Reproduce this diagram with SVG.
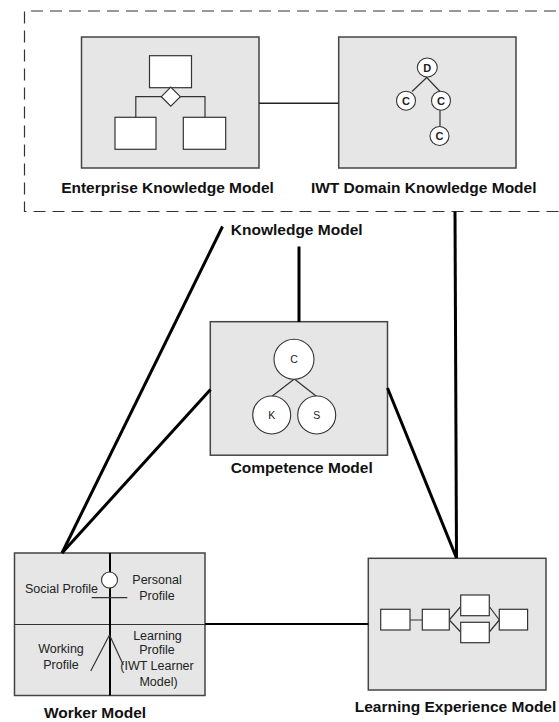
<svg xmlns="http://www.w3.org/2000/svg" width="559" height="722" viewBox="0 0 559 722">
<style>
.box{fill:#e6e6e6;stroke:#444;stroke-width:1.5}
.wbox{fill:#fff;stroke:#333;stroke-width:1.2}
.circ{fill:#fff;stroke:#333;stroke-width:1.1}
.thin{stroke:#333;stroke-width:1.2;fill:none}
.conn{stroke:#000;stroke-width:3;fill:none;stroke-linecap:butt}
.lbl{font-family:"Liberation Sans",Arial,sans-serif;font-weight:bold;font-size:15.5px;fill:#111;text-anchor:middle}
.sm{font-family:"Liberation Sans",Arial,sans-serif;font-size:12.5px;fill:#222;text-anchor:middle}
.cl{font-family:"Liberation Sans",Arial,sans-serif;font-size:10.5px;fill:#222;text-anchor:middle}
.clb{font-family:"Liberation Sans",Arial,sans-serif;font-size:11px;font-weight:bold;fill:#222;text-anchor:middle}
</style>
<rect width="559" height="722" fill="#fff"/>

<g id="knowledge-model">
<path d="M575 11 H24.5 V211.5 H575" fill="none" stroke="#333" stroke-width="1.2" stroke-dasharray="12 7"/>
<text class="lbl" x="296.7" y="235">Knowledge Model</text>
</g>

<g id="enterprise-knowledge-model">
<rect class="box" x="81.5" y="37" width="177.5" height="131"/>
<rect class="wbox" x="149.5" y="55.7" width="42" height="32"/>
<path class="thin" d="M135.8 117.3 V96.7 H205 V117.3"/>
<polygon class="wbox" points="170.8,87.2 180.3,96.7 170.8,106.2 161.3,96.7"/>
<rect class="wbox" x="115" y="117.3" width="41" height="32"/>
<rect class="wbox" x="183.3" y="117.3" width="42.4" height="32"/>
<text class="lbl" x="167.5" y="193.3">Enterprise Knowledge Model</text>
</g>

<g id="iwt-domain-knowledge-model">
<rect class="box" x="338.7" y="37" width="177.3" height="131"/>
<path class="thin" d="M426.7 77.5 L412 91.5 M426.7 77.5 L440 91.5 M440 110 V127"/>
<ellipse class="circ" cx="427.3" cy="67.5" rx="10" ry="9.5"/>
<ellipse class="circ" cx="406" cy="100.7" rx="9.5" ry="9.5"/>
<ellipse class="circ" cx="441" cy="100.7" rx="9.5" ry="9.5"/>
<ellipse class="circ" cx="439.5" cy="136" rx="9.5" ry="9.5"/>
<text class="clb" x="427.3" y="71.5">D</text>
<text class="clb" x="406" y="104.7">C</text>
<text class="clb" x="441" y="104.7">C</text>
<text class="clb" x="439.5" y="140">C</text>
<text class="lbl" x="423.7" y="193.3">IWT Domain Knowledge Model</text>
</g>

<g id="competence-model">
<rect class="box" x="210.3" y="321.7" width="177.2" height="133.5"/>
<path class="thin" d="M294.3 379 L271.7 396.5 M294.3 379 L316.7 396.5"/>
<circle class="circ" cx="294" cy="359.3" r="20"/>
<circle class="circ" cx="271.7" cy="415" r="19"/>
<circle class="circ" cx="316.7" cy="415" r="19"/>
<text class="cl" x="294" y="363.2">C</text>
<text class="cl" x="271.7" y="419">K</text>
<text class="cl" x="316.7" y="419">S</text>
<text class="lbl" x="301.7" y="472.5">Competence Model</text>
</g>

<g id="worker-model">
<rect class="box" x="14.5" y="553" width="190.5" height="142.5"/>
<line class="thin" x1="14.5" y1="624.5" x2="205" y2="624.5"/>
<line x1="110" y1="553" x2="110" y2="695.5" stroke="#000" stroke-width="2"/>
<circle class="circ" cx="109.5" cy="580" r="8"/>
<path class="thin" d="M91.7 597.7 H127.3 M109.5 635 L90.7 671 M109.5 635 L123.3 665"/>
<text class="sm" x="61.5" y="593.3">Social Profile</text>
<text class="sm" x="157" y="584">Personal</text>
<text class="sm" x="157" y="600">Profile</text>
<text class="sm" x="61" y="653.3">Working</text>
<text class="sm" x="61" y="669.3">Profile</text>
<text class="sm" x="157.5" y="640">Learning</text>
<text class="sm" x="157" y="653.5">Profile</text>
<text class="sm" x="157" y="669.5">(IWT Learner</text>
<text class="sm" x="158.5" y="685.5">Model)</text>
<text class="lbl" x="95" y="718">Worker Model</text>
</g>

<g id="learning-experience-model">
<rect class="box" x="368.3" y="558.3" width="177.7" height="131.7"/>
<path class="thin" d="M410 620 H422.3 M449.3 620 L460.7 606.5 M449.3 620 L460.7 632 M489.3 606.5 L499.3 620 M489.3 632 L499.3 620"/>
<rect class="wbox" x="380.7" y="609.3" width="29.3" height="20.7"/>
<rect class="wbox" x="422.3" y="609.3" width="27" height="20.7"/>
<rect class="wbox" x="460.7" y="595" width="28.6" height="20.7"/>
<rect class="wbox" x="460.7" y="622.3" width="28.6" height="20.4"/>
<rect class="wbox" x="499.3" y="609.3" width="28.3" height="20.7"/>
<text class="lbl" x="455.5" y="711.5">Learning Experience Model</text>
</g>

<g id="connectors">
<line x1="259" y1="103.3" x2="338.7" y2="103.3" stroke="#222" stroke-width="1.5"/>
<line class="conn" x1="222.5" y1="226.5" x2="62" y2="553"/>
<line class="conn" x1="210.5" y1="389.5" x2="62" y2="553"/>
<line class="conn" x1="299" y1="246.5" x2="299" y2="322"/>
<line class="conn" x1="455" y1="211.5" x2="456.5" y2="558"/>
<line class="conn" x1="387.5" y1="388" x2="456.5" y2="558"/>
<line x1="205" y1="624" x2="368.3" y2="624" stroke="#000" stroke-width="2.2"/>
</g>
</svg>
